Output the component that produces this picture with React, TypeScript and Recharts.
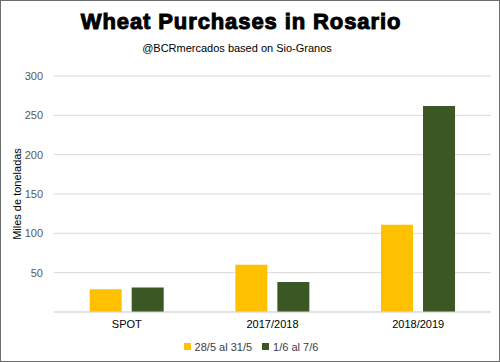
import { BarChart, Bar, XAxis, YAxis, CartesianGrid, Legend } from 'recharts';

const categories = ['SPOT', '2017/2018', '2018/2019'];
const firstWeek = [29, 60, 111];
const secondWeek = [31, 38, 262];
const yTicks = [50, 100, 150, 200, 250, 300];

const seriesNames = ['28/5 al 31/5', '1/6 al 7/6'];

const data = categories.map((name, i) => ({
  name,
  a: firstWeek[i],
  b: secondWeek[i],
}));

const font = '"Liberation Sans", Arial, sans-serif';

export default function App() {
  return (
    <div
      style={{
        position: 'absolute',
        left: 0,
        top: 0,
        width: 500,
        height: 362,
        boxSizing: 'border-box',
        border: '1px solid #6d6d6d',
        background: '#fff',
        fontFamily: font,
      }}
    >
      <div
        style={{
          position: 'absolute',
          left: 60,
          width: 360,
          top: 8,
          textAlign: 'center',
          fontSize: 22,
          fontWeight: 700,
          letterSpacing: 0.9,
          color: '#000',
          WebkitTextStroke: '1px #000',
          lineHeight: '26px',
        }}
      >
        Wheat Purchases in Rosario
      </div>
      <div
        style={{
          position: 'absolute',
          left: 86,
          width: 300,
          top: 40,
          textAlign: 'center',
          fontSize: 11,
          color: '#000',
          lineHeight: '14px',
        }}
      >
        @BCRmercados based on Sio-Granos
      </div>
      <BarChart
        width={498}
        height={360}
        data={data}
        margin={{ top: 75, right: 8, left: 0, bottom: 0 }}
        barCategoryGap="24.5%"
        barGap={10}
      >
        <CartesianGrid vertical={false} stroke="#d9d9d9" />
        <XAxis
          dataKey="name"
          axisLine={{ stroke: '#d9d9d9' }}
          tickLine={false}
          height={25}
          tick={{ fill: '#000', stroke: 'none', fontSize: 11, fontFamily: font }}
        />
        <YAxis
          width={53}
          domain={[0, 300]}
          ticks={yTicks}
          axisLine={false}
          tickLine={false}
          tickMargin={5}
          tick={{ fill: '#595959', stroke: 'none', fontSize: 11, fontFamily: font }}
          label={{
            value: 'Miles de toneladas',
            angle: -90,
            position: 'insideLeft',
            offset: 16,
            style: { textAnchor: 'middle', fontSize: 11, fill: '#000', fontFamily: font },
          }}
        />
        <Legend
          verticalAlign="bottom"
          iconType="square"
          iconSize={7}
          height={24}
          itemSorter="dataKey"
          wrapperStyle={{ paddingLeft: 10 }}
          formatter={(v: string) => (
            <span style={{ color: '#404040', fontSize: 11, fontFamily: font }}>{v}</span>
          )}
        />
        <Bar dataKey="a" name={seriesNames[0]} fill="#ffc000" isAnimationActive={false} />
        <Bar dataKey="b" name={seriesNames[1]} fill="#3a5724" isAnimationActive={false} />
      </BarChart>
    </div>
  );
}
